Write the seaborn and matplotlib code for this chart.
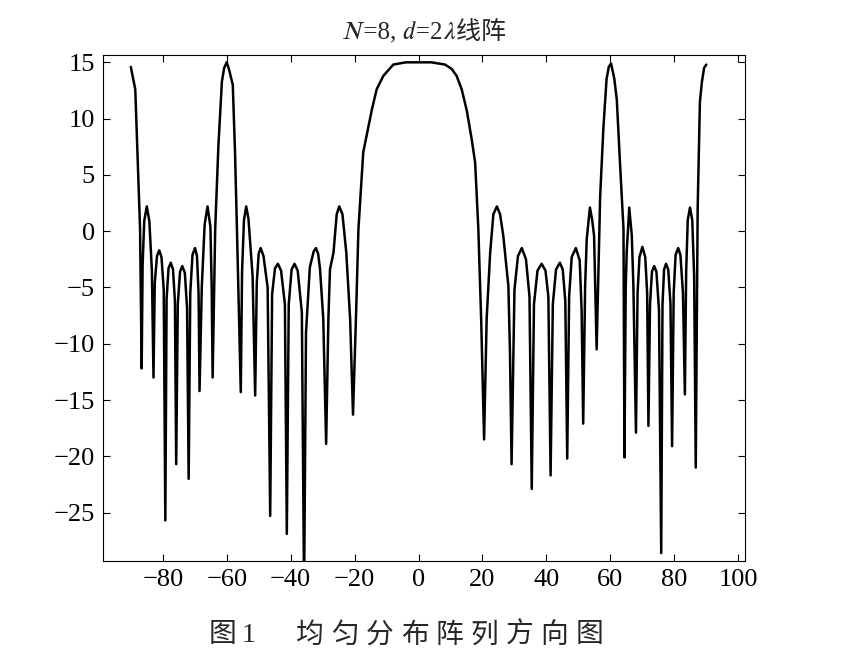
import pandas as pd
import matplotlib
matplotlib.use("Agg")
import matplotlib.pyplot as plt
import seaborn as sns

# pattern values (angle in degrees, gain in dB)
theta_left = [-90.0, -88.6, -87.1, -86.6,
              -86.3, -85.8, -85.0, -84.2, -83.4, -82.9,
              -82.5, -81.8, -81.1, -80.4, -79.7, -79.2,
              -78.8, -78.2, -77.5, -76.8, -76.2, -75.8,
              -75.3, -74.6, -73.9, -73.1, -72.4, -71.9,
              -71.4, -70.7, -69.9, -69.3, -68.8, -68.5,
              -67.8, -66.9, -66.0, -65.1, -64.7, -64.4,
              -63.6, -62.6, -61.5, -60.8, -60.0, -59.3, -58.1, -57.4, -56.8, -55.6,
              -55.2, -54.6, -53.9, -53.2, -51.9, -51.1,
              -50.6, -50.0, -49.4, -48.5, -47.2, -46.4,
              -45.8, -44.9, -44.0, -43.0, -41.8, -41.2,
              -40.6, -39.7, -38.8, -37.8, -36.5, -35.8,
              -35.2, -34.0, -32.8, -32.1, -31.4, -30.8, -29.8, -28.9,
              -28.2, -27.7, -26.6, -25.6, -24.8, -23.8, -22.6, -21.4, -20.5]
gain_left = [14.6, 12.6, 0.2, -12.2,
             -3.0, 0.9, 2.2, 0.9, -3.5, -13.0,
             -4.6, -2.2, -1.7, -2.3, -5.2, -25.7,
             -6.0, -3.3, -2.8, -3.4, -6.2, -20.7,
             -6.5, -3.6, -3.1, -3.7, -6.8, -22.0,
             -5.5, -2.1, -1.5, -2.2, -5.5, -14.2,
             -5.0, 0.6, 2.2, 0.4, -5.0, -13.0,
             0.2, 7.6, 13.3, 14.5, 15.0, 14.4, 13.0, 7.0, 0.2, -14.3,
             -3.6, 1.0, 2.2, 1.1, -4.0, -14.6,
             -4.6, -2.0, -1.5, -2.2, -5.0, -25.3,
             -5.6, -3.3, -2.9, -3.5, -6.5, -26.9,
             -6.5, -3.4, -2.9, -3.5, -7.2, -32.0,
             -9.0, -3.2, -1.8, -1.5, -2.0, -3.4, -7.8, -18.9,
             -7.8, -3.4, -1.9, 1.5, 2.2, 1.5, -1.9, -7.8, -16.3]

# main beam around broadside
theta_main = [-19.5, -18.8, -17.3, -14.6, -13.1, -11.0, -7.9, -4.0, 0.0,
              4.0, 8.3, 10.4, 11.9, 13.5, 15.1, 16.6, 17.7, 18.7, 19.6]
gain_main = [-7.0, 0.2, 7.0, 10.8, 12.6, 13.8, 14.8, 15.0, 15.0,
             15.0, 14.8, 14.4, 13.8, 12.6, 10.7, 8.2, 6.1, 0.2, -8.0]

theta_right = [20.5,
               21.3, 22.4, 23.4, 24.5, 25.5, 26.5, 28.1, 28.6, 29.1,
               30.0, 31.1, 32.3, 33.6, 34.7, 35.4,
               36.1, 37.2, 38.5, 39.7, 40.6, 41.3,
               42.0, 43.0, 44.2, 45.1, 45.9, 46.5,
               47.1, 47.9, 49.2, 50.4, 51.0, 51.5,
               52.1, 52.6, 53.6, 54.3, 54.9, 55.7,
               56.8, 57.8, 58.8, 59.5, 60.2, 61.2, 62.0, 63.0, 64.1, 64.4,
               64.8, 65.1, 65.9, 66.7, 67.2, 68.0,
               68.5, 69.1, 70.0, 70.9, 71.5, 71.9,
               72.4, 73.0, 73.7, 74.4, 75.2, 75.9,
               76.3, 76.8, 77.4, 78.1, 78.8, 79.3,
               79.8, 80.4, 81.2, 81.9, 82.7, 83.3,
               83.7, 84.2, 84.9, 85.6, 86.2, 86.7,
               87.3, 88.0, 88.6, 89.3, 90.0]
gain_right = [-18.5,
              -7.8, -1.9, 1.5, 2.2, 1.5, -0.4, -4.9, -10.8, -20.7,
              -5.2, -2.2, -1.5, -2.5, -5.8, -22.9,
              -6.5, -3.5, -2.9, -3.5, -5.8, -21.7,
              -6.5, -3.4, -2.8, -3.4, -6.2, -20.2,
              -5.8, -2.3, -1.5, -2.6, -7.0, -17.1,
              -4.9, -0.7, 2.1, 1.0, -0.4, -10.5,
              3.1, 9.1, 13.5, 14.6, 14.9, 13.6, 11.7, 6.1, 0.2, -20.1,
              -5.0, -1.9, 2.1, -0.4, -4.9, -17.9,
              -5.5, -2.3, -1.4, -2.3, -5.5, -17.3,
              -6.5, -3.6, -3.1, -3.6, -7.0, -28.6,
              -6.5, -3.4, -2.9, -3.4, -6.5, -19.1,
              -5.5, -2.1, -1.5, -2.1, -5.5, -14.5,
              -3.6, 1.0, 2.1, 1.0, -4.0, -21.0,
              2.0, 11.5, 13.2, 14.5, 14.8]

x_ticks = [-80, -60, -40, -20, 0, 20, 40, 60, 80, 100]
y_ticks = [15, 10, 5, 0, -5, -10, -15, -20, -25]

title_text = "\U0001D441=8, \U0001D451=2\U0001D706线阵"
caption_label = "图1"
caption_text = "均匀分布阵列方向图"

df = pd.DataFrame({
    "theta": theta_left + theta_main + theta_right,
    "gain": gain_left + gain_main + gain_right,
})

sns.set_style("ticks")
fonts = ["Liberation Serif", "STIXGeneral", "Noto Sans CJK SC"]
plt.rcParams["font.family"] = fonts

fig = plt.figure(figsize=(8.46, 6.70), dpi=100)
ax = fig.add_axes([0.1221, 0.1627, 0.7585, 0.7552])

sns.lineplot(data=df, x="theta", y="gain", ax=ax, color="black",
             linewidth=1.8, estimator=None, sort=False)

ax.set_xlim(-98.6, 102.1)
ax.set_ylim(-29.3, 15.65)
ax.set_xticks(x_ticks)
ax.set_yticks(y_ticks)
ax.set_xlabel("")
ax.set_ylabel("")
ax.tick_params(direction="in", length=5, width=0.8, top=True, right=True,
               labelsize=19, colors="black")
ax.tick_params(axis="x", pad=6)
ax.tick_params(axis="y", pad=6)
for s in ax.spines.values():
    s.set_visible(True)
    s.set_color("black")
    s.set_linewidth(0.8)

ax.set_title(title_text, fontsize=18, pad=11, family=fonts)

# caption below the axes, letter-spaced like the printed figure
cap_y = 1 - 636 / 670
cap_font = ["Liberation Serif", "Noto Sans CJK SC"]
for px, ch in zip([222, 249], caption_label):
    fig.text(px / 846, cap_y, ch, fontsize=20, ha="center", va="center", family=cap_font)
for i, ch in enumerate(caption_text):
    fig.text((310 + i * 34.9) / 846, cap_y, ch, fontsize=20, ha="center", va="center",
             family=cap_font)

fig.savefig("out.png", dpi=100)
